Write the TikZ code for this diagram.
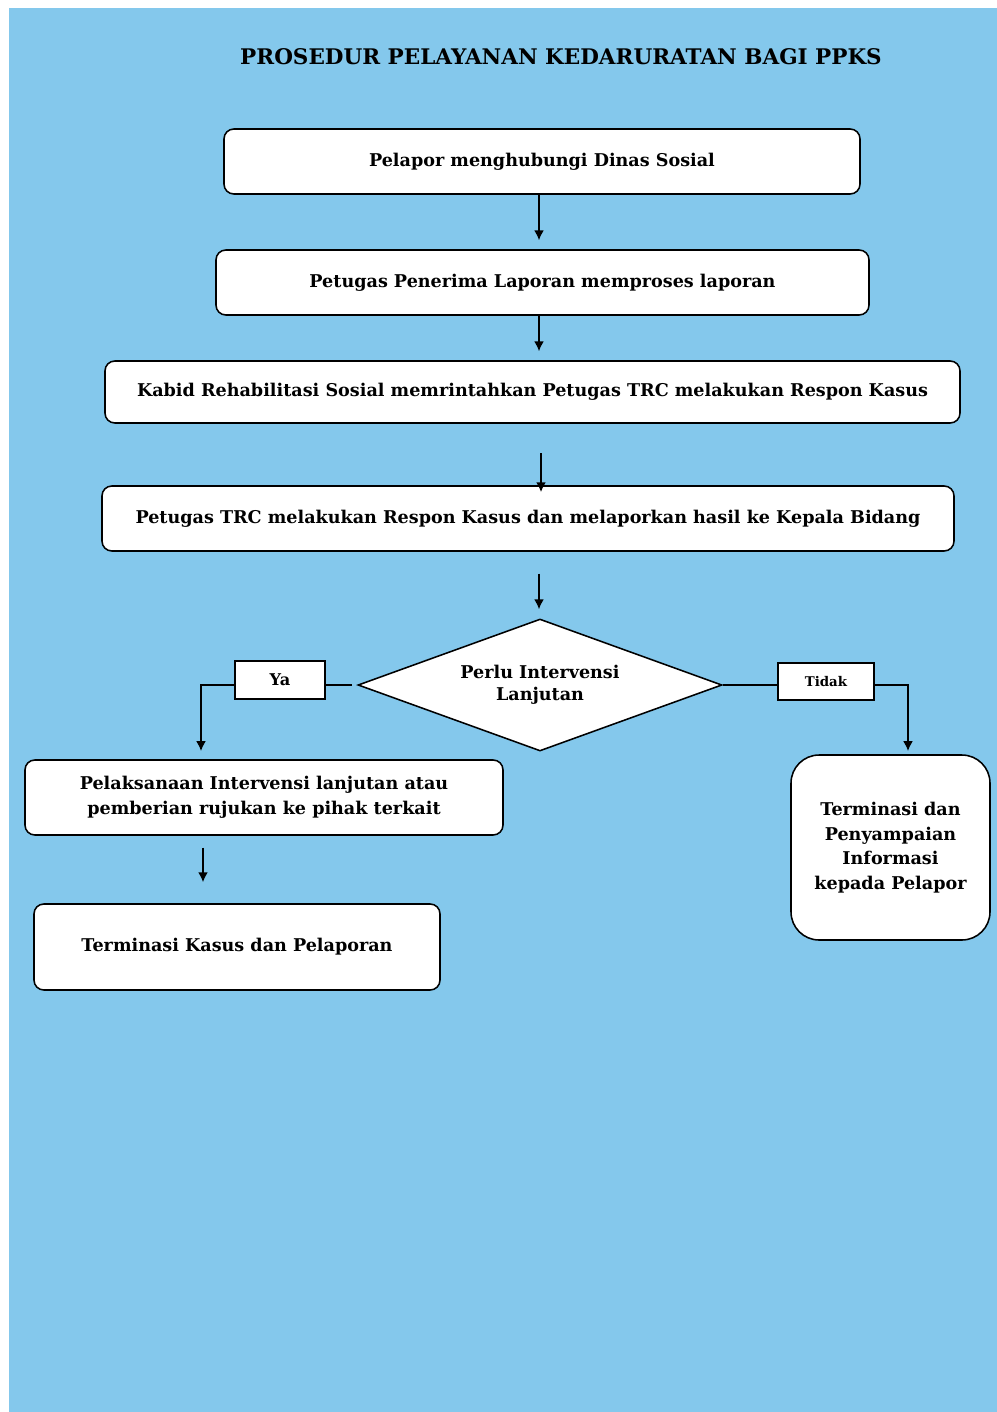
\documentclass[tikz,border=0pt]{standalone}
\usepackage{fontspec}
\setmainfont{DejaVu Serif}
\usetikzlibrary{shapes.geometric, arrows.meta}

\newcommand{\PixelSize}{0.025cm}
\definecolor{pageblue}{RGB}{132,200,236}

\tikzset{
    flowbox/.style 2 args={draw=black, line width=1.1pt, fill=white,
        rounded corners=7pt, inner sep=0pt, align=center,
        minimum width=#1*\PixelSize, minimum height=#2*\PixelSize,
        font=\bfseries\fontsize{12.5}{17.5}\selectfont},
    labelbox/.style 2 args={draw=black, line width=1.1pt, fill=white,
        inner sep=0pt, minimum width=#1*\PixelSize, minimum height=#2*\PixelSize},
    connector/.style={line width=1.1pt, -{Latex[length=7pt,width=7pt]}},
}

\begin{document}
\begin{tikzpicture}[x=\PixelSize, y=-\PixelSize]

% Page and background
\useasboundingbox (0,0) rectangle (997,1412);
\fill [pageblue] (9,8) rectangle (997,1412);

% Position settings
\coordinate (MainAxis) at (539,0);
\coordinate (LeftAxis) at (203,0);
\coordinate (YaDrop) at (201,751);
\coordinate (TidakDrop) at (908,751);

% Title
\node (title) at (561,57) {\bfseries\fontsize{15.3}{20}\selectfont PROSEDUR PELAYANAN KEDARURATAN BAGI PPKS};

% Draws steps
\node [flowbox={636}{65}] (Pelapor) at (542,161.5) {Pelapor menghubungi Dinas Sosial};
\node [flowbox={653}{65}] (Penerima) at (542.5,282.5) {Petugas Penerima Laporan memproses laporan};
\node [flowbox={855}{62}] (Kabid) at (532.5,392) {Kabid Rehabilitasi Sosial memrintahkan Petugas TRC melakukan Respon Kasus};
\node [flowbox={852}{65}] (Respon) at (528,518.5) {Petugas TRC melakukan Respon Kasus dan melaporkan hasil ke Kepala Bidang};
\node [draw=black, line width=1.1pt, fill=white, shape=diamond, shape aspect=2.76,
    inner sep=0pt, minimum width=364*\PixelSize, minimum height=132*\PixelSize,
    align=center, font=\bfseries\fontsize{12.5}{15.6}\selectfont]
    (Perlu) at (540,685) {Perlu Intervensi\\Lanjutan};
\node [flowbox={478}{75}] (Lanjut) at (264,797.5) {Pelaksanaan Intervensi lanjutan atau\\pemberian rujukan ke pihak terkait};
\node [flowbox={406}{86}] (Kasus) at (237,947) {Terminasi Kasus dan Pelaporan};
\node [flowbox={199}{185}, rounded corners=20pt] (Informasi) at (890.5,847.5) {Terminasi dan\\Penyampaian\\Informasi\\kepada Pelapor};

% Draws answers
\node [labelbox={90}{38}, font=\bfseries\fontsize{11.5}{14}\selectfont] (Ya) at (280,680) {Ya};
\node [labelbox={96}{37}, font=\bfseries\fontsize{9.5}{12}\selectfont] (Tidak) at (826,681.5) {Tidak};

% Write out connectors
\draw [connector, shorten >=6.4pt] (Pelapor.south -| MainAxis) -- (Penerima.north -| MainAxis);
\draw [connector, shorten >=6.4pt] (Penerima.south -| MainAxis) -- (Kabid.north -| MainAxis);
\draw [connector, line width=2pt, shorten <=21pt, shorten >=-5pt] ([xshift=2*\PixelSize]Kabid.south -| MainAxis) -- ([xshift=2*\PixelSize]Respon.north -| MainAxis);
\draw [connector, shorten <=15.6pt, shorten >=6.4pt] (Respon.south -| MainAxis) -- (Perlu.north -| MainAxis);
\draw [line width=1.1pt, shorten <=4pt] (Perlu.west) -- (Ya.east |- Perlu.west);
\draw [connector] (Ya.west |- Perlu.west) -| (YaDrop);
\draw [line width=1.1pt] (Perlu.east) -- (Tidak.west |- Perlu.east);
\draw [connector] (Tidak.east |- Perlu.east) -| (TidakDrop);
\draw [connector, shorten <=8.5pt, shorten >=15pt] (Lanjut.south -| LeftAxis) -- (Kasus.north -| LeftAxis);

\end{tikzpicture}
\end{document}
